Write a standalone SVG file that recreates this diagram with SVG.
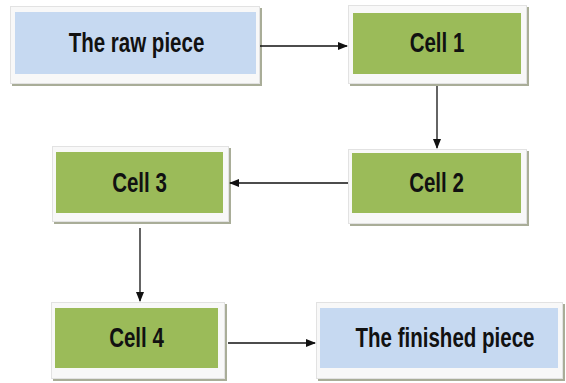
<svg xmlns="http://www.w3.org/2000/svg" width="566" height="383" viewBox="0 0 566 383">
<style>
.frame{fill:#f8f8f8;stroke:#e2e2e2;stroke-width:1}
.shadow{fill:#a9ad98}
.blue{fill:#c6d9f1}
.green{fill:#9bbb59}
.lbl{font-family:"Liberation Sans",Arial,sans-serif;font-weight:bold;font-size:27px;fill:#111;text-anchor:middle}
.conn{stroke:#111;stroke-width:1.3;fill:none;marker-end:url(#ah)}
</style>
<defs>
<marker id="ah" markerWidth="10" markerHeight="8" refX="9" refY="4" orient="auto" markerUnits="userSpaceOnUse">
<path d="M0,0 L10,4 L0,8 Z" fill="#111"/>
</marker>
</defs>
<rect width="566" height="383" fill="#ffffff"/>
<g id="raw">
<rect class="shadow" x="12" y="8" width="250" height="78"/>
<rect class="frame" x="10.5" y="6.5" width="249" height="77"/>
<rect class="blue" x="15" y="12" width="241" height="62"/>
<text class="lbl" transform="translate(136.5,52) scale(0.76,1)">The raw piece</text>
</g>
<g id="cell1">
<rect class="shadow" x="350" y="7" width="179" height="79"/>
<rect class="frame" x="348.5" y="5.5" width="178" height="78"/>
<rect class="green" x="353" y="13" width="168" height="61"/>
<text class="lbl" transform="translate(437,51.5) scale(0.76,1)">Cell 1</text>
</g>
<g id="cell2">
<rect class="shadow" x="350" y="151" width="179" height="75"/>
<rect class="frame" x="348.5" y="149.5" width="178" height="74"/>
<rect class="green" x="352" y="153" width="169" height="60"/>
<text class="lbl" transform="translate(436.5,192) scale(0.76,1)">Cell 2</text>
</g>
<g id="cell3">
<rect class="shadow" x="54" y="148" width="177" height="76"/>
<rect class="frame" x="52.5" y="146.5" width="176" height="75"/>
<rect class="green" x="56" y="152" width="167" height="61"/>
<text class="lbl" transform="translate(139.5,192) scale(0.76,1)">Cell 3</text>
</g>
<g id="cell4">
<rect class="shadow" x="53" y="304" width="174" height="77"/>
<rect class="frame" x="51.5" y="302.5" width="173" height="76"/>
<rect class="green" x="55" y="308" width="163" height="60"/>
<text class="lbl" transform="translate(136.5,347) scale(0.76,1)">Cell 4</text>
</g>
<g id="finished">
<rect class="shadow" x="318" y="304" width="247" height="77"/>
<rect class="frame" x="316.5" y="302.5" width="246" height="76"/>
<rect class="blue" x="320" y="308" width="238" height="60"/>
<text class="lbl" transform="translate(445,347) scale(0.76,1)">The finished piece</text>
</g>
<g id="connectors">
<line class="conn" x1="260" y1="46" x2="347" y2="46"/>
<line class="conn" x1="437" y1="86" x2="437" y2="148"/>
<line class="conn" x1="348" y1="183" x2="230" y2="183"/>
<line class="conn" x1="140" y1="228" x2="140" y2="301"/>
<line class="conn" x1="228" y1="343" x2="315" y2="343"/>
</g>
</svg>
